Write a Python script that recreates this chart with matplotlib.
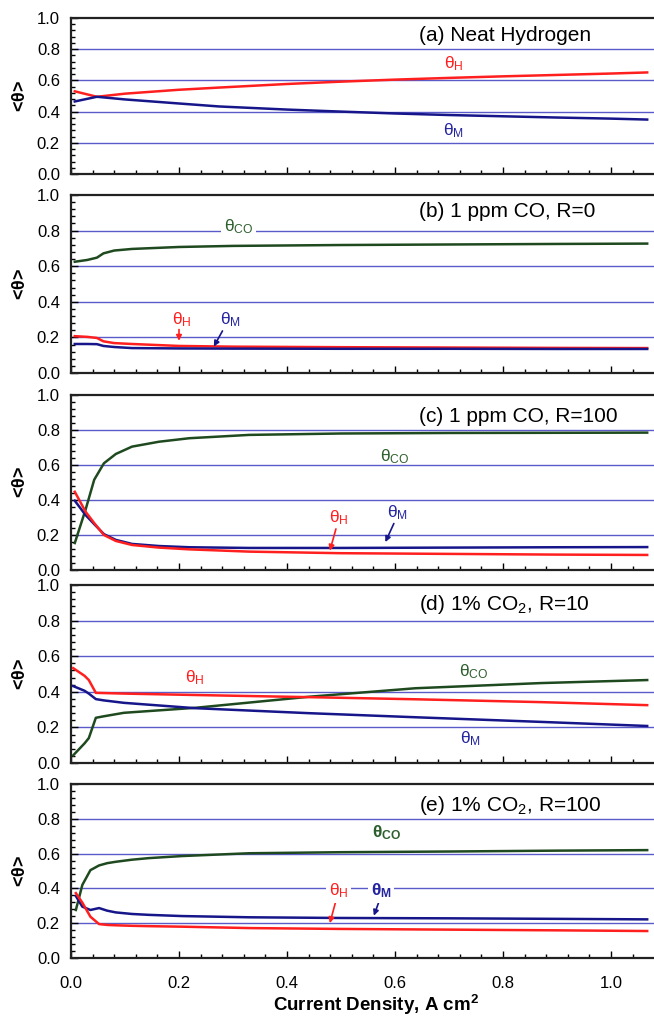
import matplotlib
matplotlib.use("Agg")
import matplotlib.pyplot as plt
from matplotlib.ticker import MultipleLocator

plt.rcParams['font.family'] = ['Liberation Sans', 'DejaVu Sans']
plt.rcParams['mathtext.fontset'] = 'custom'
plt.rcParams['mathtext.rm'] = 'Liberation Sans'
plt.rcParams['mathtext.it'] = 'Liberation Sans'
plt.rcParams['mathtext.bf'] = 'Liberation Sans:bold'

# ---------------- data ----------------
panel_titles = ["(a) Neat Hydrogen", "(b) 1 ppm CO, R=0", "(c) 1 ppm CO, R=100",
                "(d) 1% CO$_2$, R=10", "(e) 1% CO$_2$, R=100"]

a_x = [0.007, 0.048, 0.1, 0.2, 0.274, 0.4, 0.5, 0.6, 0.7, 0.8, 0.9, 1.0, 1.067]
a_H = [0.53, 0.495, 0.515, 0.54, 0.554, 0.577, 0.592, 0.605, 0.616, 0.626, 0.635, 0.644, 0.651]
a_M = [0.465, 0.495, 0.478, 0.452, 0.433, 0.413, 0.40, 0.388, 0.378, 0.37, 0.362, 0.355, 0.349]

b_x = [0.007, 0.03, 0.048, 0.06, 0.08, 0.113, 0.2, 0.3, 0.5, 0.7, 0.9, 1.067]
b_CO = [0.625, 0.635, 0.648, 0.672, 0.688, 0.697, 0.708, 0.714, 0.719, 0.722, 0.725, 0.727]
b_H = [0.207, 0.203, 0.197, 0.178, 0.168, 0.163, 0.152, 0.148, 0.145, 0.143, 0.141, 0.140]
b_M = [0.163, 0.163, 0.162, 0.152, 0.146, 0.140, 0.138, 0.137, 0.136, 0.136, 0.135, 0.135]

c_x = [0.007, 0.027, 0.043, 0.061, 0.083, 0.113, 0.163, 0.219, 0.33, 0.5, 0.7, 0.9, 1.067]
c_CO = [0.154, 0.345, 0.516, 0.61, 0.663, 0.705, 0.733, 0.753, 0.772, 0.78, 0.783, 0.784, 0.785]
c_H = [0.447, 0.333, 0.268, 0.2, 0.166, 0.143, 0.128, 0.118, 0.105, 0.096, 0.092, 0.088, 0.086]
c_M = [0.396, 0.314, 0.262, 0.205, 0.172, 0.149, 0.137, 0.13, 0.126, 0.126, 0.128, 0.13, 0.131]

d_x = [0.004, 0.025, 0.033, 0.046, 0.06, 0.098, 0.23, 0.44, 0.638, 0.87, 1.067]
d_H = [0.533, 0.49, 0.466, 0.394, 0.393, 0.39, 0.382, 0.37, 0.358, 0.342, 0.325]
d_M = [0.432, 0.406, 0.39, 0.359, 0.352, 0.338, 0.308, 0.28, 0.257, 0.231, 0.208]
d_CO = [0.043, 0.11, 0.14, 0.254, 0.262, 0.282, 0.31, 0.372, 0.42, 0.449, 0.466]

e_x = [0.009, 0.021, 0.036, 0.052, 0.067, 0.083, 0.113, 0.144, 0.206, 0.33, 0.5, 0.7, 0.9, 1.067]
e_CO = [0.276, 0.42, 0.505, 0.532, 0.545, 0.553, 0.565, 0.574, 0.586, 0.602, 0.608, 0.612, 0.617, 0.62]
e_H = [0.373, 0.318, 0.237, 0.195, 0.19, 0.188, 0.185, 0.183, 0.18, 0.172, 0.167, 0.163, 0.159, 0.155]
e_M = [0.356, 0.295, 0.276, 0.287, 0.272, 0.262, 0.253, 0.248, 0.241, 0.234, 0.23, 0.228, 0.225, 0.222]

x_ticks = [0.0, 0.2, 0.4, 0.6, 0.8, 1.0]
y_ticks = [0.0, 0.2, 0.4, 0.6, 0.8, 1.0]

# ---------------- style ----------------
RED = '#ff1f1f'
BLUE = '#16168a'
GREEN = '#1f4a1f'
GRID = '#5a5ac8'
LBL_BLUE = '#2424a0'
LBL_GREEN = '#2d5e2d'
LFS = 12.5

W, H = 654, 1017
fig = plt.figure(figsize=(W / 100, H / 100), dpi=100)

panel_px = [(18, 174), (195, 373), (395, 570), (585, 763), (784, 958)]
left_px = 71
xmax = (W - left_px) / 540.0

axes = []
for i, (t, b) in enumerate(panel_px):
    ax = fig.add_axes([left_px / W, 1 - b / H, (W - left_px) / W, (b - t) / H])
    ax.set_xlim(0, xmax)
    ax.set_ylim(0, 1.0)
    ax.set_yticks(y_ticks)
    ax.set_xticks(x_ticks)
    ax.xaxis.set_minor_locator(MultipleLocator(0.04))
    ax.yaxis.set_minor_locator(MultipleLocator(0.04))
    ax.tick_params(which='both', direction='in', top=False, right=False, width=1.0)
    ax.tick_params(which='major', length=5)
    ax.tick_params(which='minor', length=3)
    ax.tick_params(axis='y', labelsize=12, pad=8)
    ax.tick_params(axis='x', labelsize=12, pad=13)
    ax.set_yticklabels([f"{v:.1f}" for v in y_ticks])
    if i < 4:
        ax.set_xticklabels([])
    else:
        ax.set_xticklabels([f"{v:.1f}" for v in x_ticks])
    for s in ['left', 'bottom', 'top']:
        ax.spines[s].set_linewidth(1.6)
        ax.spines[s].set_color('#222222')
    ax.spines['right'].set_visible(False)
    for g in [0.2, 0.4, 0.6, 0.8]:
        ax.axhline(g, color=GRID, lw=1.0, zorder=1)
    ax.set_ylabel(r"<$\mathbf{\theta}$>", fontsize=13, fontweight='bold')
    ax.yaxis.set_label_coords(-0.072, 0.5)
    ax.text(0.645, [0.885, 0.905, 0.88, 0.888, 0.879][i], panel_titles[i], fontsize=15,
            ha='left', va='center', zorder=5)
    axes.append(ax)

lw = 1.8
ax = axes[0]
ax.plot(a_x, a_H, color=RED, lw=lw, zorder=3)
ax.plot(a_x, a_M, color=BLUE, lw=lw, zorder=3)
ax.text(0.709, 0.707, r"$\theta_\mathrm{H}$", color=RED, fontsize=LFS, ha='center', va='center')
ax.text(0.709, 0.28, r"$\theta_\mathrm{M}$", color=LBL_BLUE, fontsize=LFS, ha='center', va='center')

ax = axes[1]
ax.plot(b_x, b_CO, color=GREEN, lw=lw, zorder=3)
ax.plot(b_x, b_H, color=RED, lw=lw, zorder=3)
ax.plot(b_x, b_M, color=BLUE, lw=lw, zorder=3)
ax.text(0.31, 0.82, r"$\theta_\mathrm{CO}$", color=LBL_GREEN, fontsize=LFS, ha='center', va='center',
        bbox=dict(facecolor='white', edgecolor='none', pad=2), zorder=4)
ax.text(0.205, 0.30, r"$\theta_\mathrm{H}$", color=RED, fontsize=LFS, ha='center', va='center')
ax.text(0.295, 0.30, r"$\theta_\mathrm{M}$", color=LBL_BLUE, fontsize=LFS, ha='center', va='center')
ax.annotate("", xy=(0.2, 0.165), xytext=(0.2, 0.26),
            arrowprops=dict(arrowstyle='-|>', color=RED, lw=1.2, mutation_scale=8))
ax.annotate("", xy=(0.262, 0.135), xytext=(0.283, 0.25),
            arrowprops=dict(arrowstyle='-|>', color=BLUE, lw=1.2, mutation_scale=8))

ax = axes[2]
ax.plot(c_x, c_CO, color=GREEN, lw=lw, zorder=3)
ax.plot(c_x, c_M, color=BLUE, lw=lw, zorder=3)
ax.plot(c_x, c_H, color=RED, lw=lw, zorder=3)
ax.text(0.6, 0.647, r"$\theta_\mathrm{CO}$", color=LBL_GREEN, fontsize=LFS, ha='center', va='center')
ax.text(0.496, 0.297, r"$\theta_\mathrm{H}$", color=RED, fontsize=LFS, ha='center', va='center')
ax.text(0.605, 0.33, r"$\theta_\mathrm{M}$", color=LBL_BLUE, fontsize=LFS, ha='center', va='center')
ax.annotate("", xy=(0.478, 0.095), xytext=(0.492, 0.25),
            arrowprops=dict(arrowstyle='-|>', color=RED, lw=1.2, mutation_scale=8))
ax.annotate("", xy=(0.58, 0.145), xytext=(0.6, 0.28),
            arrowprops=dict(arrowstyle='-|>', color=BLUE, lw=1.2, mutation_scale=8))

ax = axes[3]
ax.plot(d_x, d_CO, color=GREEN, lw=lw, zorder=3)
ax.plot(d_x, d_M, color=BLUE, lw=lw, zorder=3)
ax.plot(d_x, d_H, color=RED, lw=lw, zorder=3)
ax.text(0.23, 0.477, r"$\theta_\mathrm{H}$", color=RED, fontsize=LFS, ha='center', va='center')
ax.text(0.746, 0.513, r"$\theta_\mathrm{CO}$", color=LBL_GREEN, fontsize=LFS, ha='center', va='center')
ax.text(0.739, 0.139, r"$\theta_\mathrm{M}$", color=LBL_BLUE, fontsize=LFS, ha='center', va='center')

ax = axes[4]
ax.plot(e_x, e_CO, color=GREEN, lw=lw, zorder=3)
ax.plot(e_x, e_M, color=BLUE, lw=lw, zorder=3)
ax.plot(e_x, e_H, color=RED, lw=lw, zorder=3)
ax.text(0.584, 0.718, r"$\mathbf{\theta_{CO}}$", color=LBL_GREEN, fontsize=LFS, ha='center', va='center')
ax.text(0.496, 0.387, r"$\theta_\mathrm{H}$", color=RED, fontsize=LFS, ha='center', va='center',
        bbox=dict(facecolor='white', edgecolor='none', pad=2), zorder=4)
ax.text(0.574, 0.387, r"$\mathbf{\theta_M}$", color=LBL_BLUE, fontsize=LFS, ha='center', va='center',
        bbox=dict(facecolor='white', edgecolor='none', pad=2), zorder=4)
ax.annotate("", xy=(0.478, 0.185), xytext=(0.492, 0.345),
            arrowprops=dict(arrowstyle='-|>', color=RED, lw=1.2, mutation_scale=8))
ax.annotate("", xy=(0.559, 0.228), xytext=(0.574, 0.355),
            arrowprops=dict(arrowstyle='-|>', color=BLUE, lw=1.2, mutation_scale=8))
ax.set_xlabel(r"Current Density, A cm$^{\mathbf{2}}$", fontsize=13.5, fontweight='bold')
ax.xaxis.set_label_coords(0.523, -0.2)

fig.savefig("out.png", dpi=100)
